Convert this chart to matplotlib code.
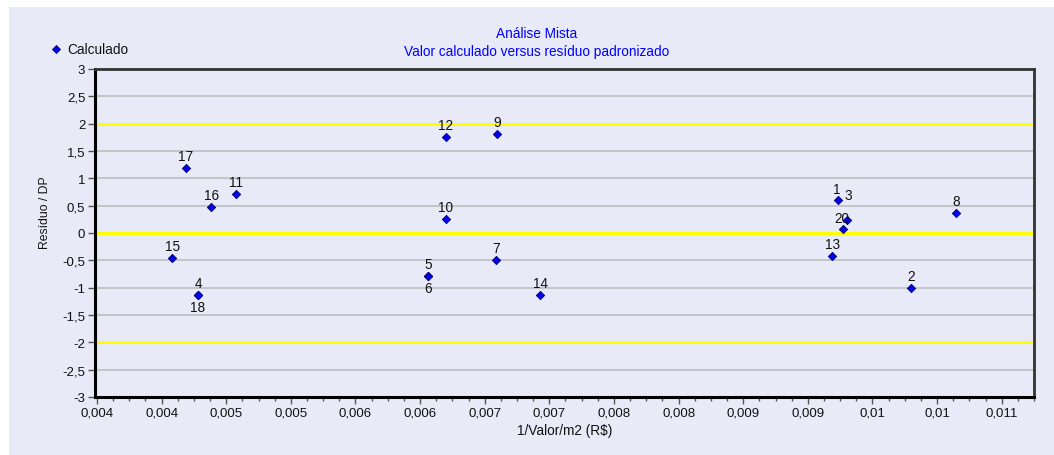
import matplotlib
matplotlib.use("Agg")
import matplotlib.pyplot as plt
from matplotlib.ticker import FixedLocator, MultipleLocator

plt.rcParams['font.family'] = ['Liberation Sans', 'DejaVu Sans']

# Observation labels, x = 1/Valor/m2 (R$), y = Resíduo / DP
point_ids = ["1", "2", "3", "4", "5", "6", "7", "8", "9", "10",
             "11", "12", "13", "14", "15", "16", "17", "18", "20"]
x_vals = [0.009733, 0.010300, 0.009802, 0.004782, 0.006563, 0.006563,
          0.007086, 0.010649, 0.007094, 0.006699, 0.005073, 0.006699,
          0.009691, 0.007429, 0.004583, 0.004885, 0.004689, 0.004782,
          0.009771]
y_vals = [0.596, -1.013, 0.243, -1.134, -0.794, -0.794,
          -0.494, 0.359, 1.804, 0.262, 0.719, 1.756,
          -0.415, -1.134, -0.457, 0.476, 1.194, -1.134,
          0.066]

x_ticks = [0.004, 0.0045, 0.005, 0.0055, 0.006, 0.0065, 0.007, 0.0075,
           0.008, 0.0085, 0.009, 0.0095, 0.010, 0.0105, 0.011]
x_tick_labels = ["0,004", "0,004", "0,005", "0,005", "0,006", "0,006",
                 "0,007", "0,007", "0,008", "0,008", "0,009", "0,009",
                 "0,01", "0,01", "0,011"]
y_ticks = [3, 2.5, 2, 1.5, 1, 0.5, 0, -0.5, -1, -1.5, -2, -2.5, -3]
y_tick_labels = ["3", "2,5", "2", "1,5", "1", "0,5", "0", "-0,5", "-1",
                 "-1,5", "-2", "-2,5", "-3"]
limit_lines = [-2, 0, 2]

title_lines = ["Análise Mista", "Valor calculado versus resíduo padronizado"]
series_name = "Calculado"
x_label = "1/Valor/m2 (R$)"
y_label = "Resíduo / DP"

BG = "#E8EAF8"
FS = 9.8
TXT = "#111111"

W, H = 1054, 456
fig = plt.figure(figsize=(W / 100, H / 100), dpi=100)
fig.patch.set_facecolor("white")

# lavender panel behind the chart (white strip on top and left)
fig.add_artist(plt.Rectangle((9 / W, 0), 1, 1 - 8 / H, transform=fig.transFigure,
                             facecolor=BG, edgecolor="none", zorder=-10))

left, right, top, bottom = 95, 1034, 70, 398
ax = fig.add_axes([left / W, 1 - bottom / H, (right - left) / W, (bottom - top) / H])
ax.set_facecolor(BG)

ax.set_xlim(0.003985, 0.01125)
ax.set_ylim(-3, 3)

# horizontal grid and limit lines
for yv in y_ticks:
    if yv in limit_lines:
        ax.axhline(yv, color="#FFFF00", lw=2.2, zorder=1)
    elif abs(yv) != 3:
        ax.axhline(yv, color="#C4C4C8", lw=1.4, zorder=1)

ax.scatter(x_vals, y_vals, marker="D", s=18, facecolor="#0000EE",
           edgecolor="#000066", linewidths=0.6, zorder=3)

# label offsets in pixels (default above the marker)
label_offsets = {"18": (0, -12), "6": (0, -12), "3": (1, 25), "20": (-1, 11),
                 "1": (-1, 11)}
for pid, xv, yv in zip(point_ids, x_vals, y_vals):
    dx, dy = label_offsets.get(pid, (0, 12))
    ax.annotate(pid, (xv, yv), xytext=(dx, dy), textcoords="offset pixels",
                ha="center", va="center", fontsize=FS, color=TXT, zorder=4)

ax.xaxis.set_major_locator(FixedLocator(x_ticks))
ax.set_xticklabels(x_tick_labels)
ax.xaxis.set_minor_locator(MultipleLocator(0.000125))
ax.yaxis.set_major_locator(FixedLocator(y_ticks))
ax.set_yticklabels(y_tick_labels)

ax.tick_params(axis="both", which="major", direction="out", length=5,
               width=1, color="#555555", labelsize=FS - 0.3, labelcolor=TXT, pad=2)
ax.tick_params(axis="x", which="minor", direction="out", length=3, width=1,
               color="#555555")

for side in ("left", "bottom"):
    ax.spines[side].set_linewidth(2.2)
    ax.spines[side].set_color("black")
for side in ("top", "right"):
    ax.spines[side].set_linewidth(2.0)
    ax.spines[side].set_color("#333333")

ax.set_xlabel(x_label, fontsize=FS, color=TXT, labelpad=3)
ax.set_ylabel(y_label, fontsize=FS - 1.0, color=TXT)
ax.yaxis.set_label_coords(-0.047, (398 - 213) / 328)

fig.text(537 / W, 1 - 34 / H, title_lines[0], ha="center", va="center",
         fontsize=FS, color="#0000FF")
fig.text(537 / W, 1 - 52 / H, title_lines[1], ha="center", va="center",
         fontsize=FS, color="#0000FF")

# legend entry
fig.add_artist(plt.Line2D([56 / W], [1 - 50 / H], marker="D", markersize=4.2,
                          markerfacecolor="#0000EE", markeredgecolor="#000066",
                          markeredgewidth=0.6, linestyle="none",
                          transform=fig.transFigure))
fig.text(67 / W, 1 - 50 / H, series_name, ha="left", va="center",
         fontsize=FS, color=TXT)

fig.savefig("out.png", dpi=100, facecolor=fig.get_facecolor())
